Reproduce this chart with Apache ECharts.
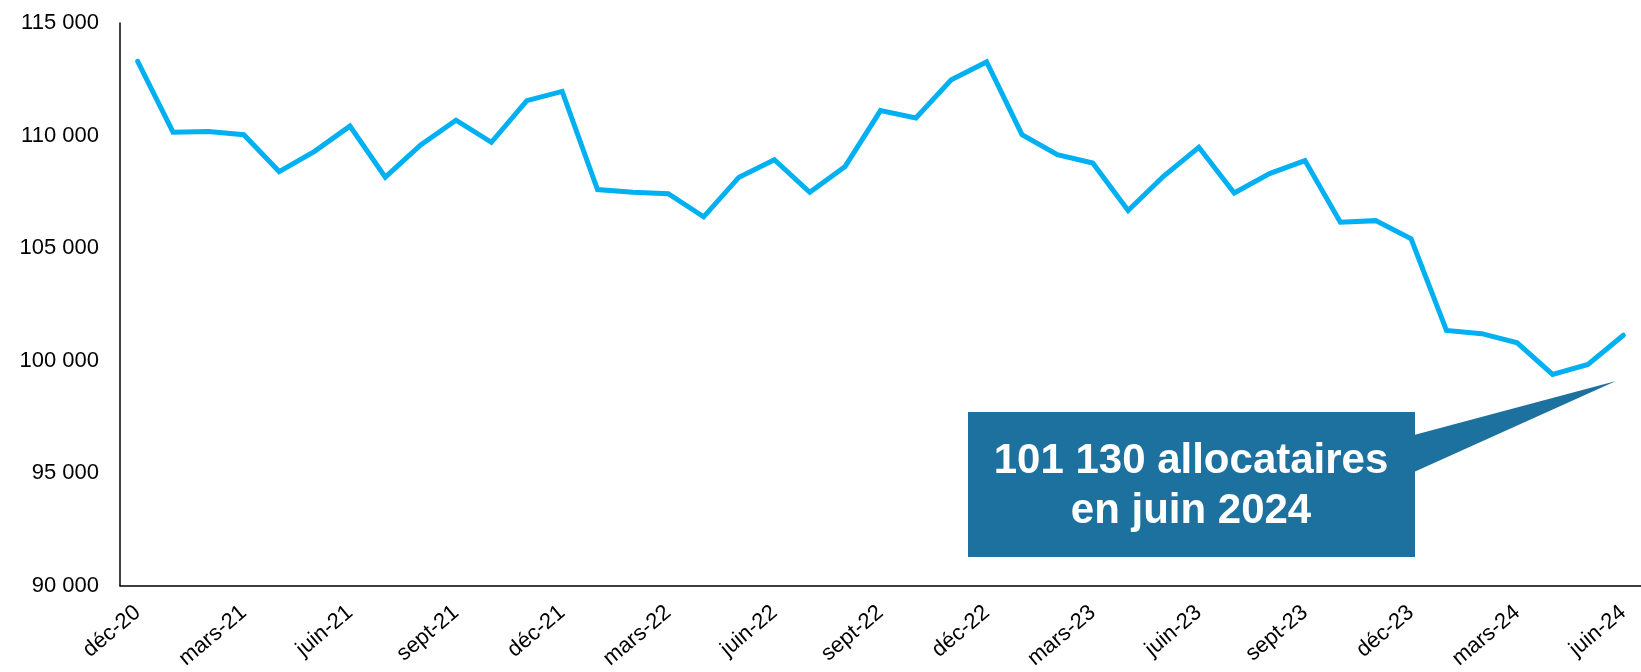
<!DOCTYPE html>
<html>
<head>
<meta charset="utf-8">
<script src="https://cdn.jsdelivr.net/npm/echarts@6/dist/echarts.min.js"></script>
<style>
  html, body { margin: 0; padding: 0; background: #fff; }
  #chart { width: 1641px; height: 672px; }
</style>
</head>
<body>
<div id="chart"></div>
<script>
const months = [
  'déc-20', 'janv-21', 'févr-21', 'mars-21', 'avr-21', 'mai-21', 'juin-21', 'juil-21', 'août-21', 'sept-21', 'oct-21', 'nov-21',
  'déc-21', 'janv-22', 'févr-22', 'mars-22', 'avr-22', 'mai-22', 'juin-22', 'juil-22', 'août-22', 'sept-22', 'oct-22', 'nov-22',
  'déc-22', 'janv-23', 'févr-23', 'mars-23', 'avr-23', 'mai-23', 'juin-23', 'juil-23', 'août-23', 'sept-23', 'oct-23', 'nov-23',
  'déc-23', 'janv-24', 'févr-24', 'mars-24', 'avr-24', 'mai-24', 'juin-24'
]

const allocataires = [
  113300, 110150, 110180, 110040, 108400, 109300, 110420, 108150, 109580, 110680, 109700, 111550,
  111960, 107600, 107480, 107420, 106390, 108150, 108930, 107480, 108630, 111110, 110780, 112480,
  113270, 110040, 109150, 108780, 106670, 108190, 109480, 107450, 108310, 108890, 106150, 106220,
  105410, 101340, 101200, 100790, 99390, 99830, 101130
]

const calloutLines = ['101 130 allocataires', 'en juin 2024']

const font = '"Liberation Sans", Arial, sans-serif'

const fmt = v => String(v).replace(/\B(?=(\d{3})+(?!\d))/g, ' ')

const chart = echarts.init(document.getElementById('chart'))

const option = {
  animation: false,
  backgroundColor: '#fff',
  textStyle: { fontFamily: font },
  grid: {
    left: 120,
    top: 23,
    width: 1535,
    height: 563
  },
  xAxis: {
    type: 'category',
    data: months,
    boundaryGap: true,
    axisLine: { lineStyle: { color: '#000', width: 1.5 } },
    axisTick: { show: false },
    axisLabel: {
      interval: 2,
      rotate: 40,
      margin: 24,
      color: '#000',
      fontSize: 22,
      fontFamily: font
    }
  },
  yAxis: {
    type: 'value',
    min: 90000,
    max: 115000,
    interval: 5000,
    axisLine: { show: true, lineStyle: { color: '#000', width: 1.5 } },
    axisTick: { show: false },
    splitLine: { show: false },
    axisLabel: {
      margin: 21,
      color: '#000',
      fontSize: 22,
      fontFamily: font,
      formatter: fmt
    }
  },
  series: [
    {
      name: 'Allocataires',
      type: 'line',
      data: allocataires,
      showSymbol: false,
      symbol: 'none',
      lineStyle: { color: '#00b0f0', width: 5, cap: 'round', join: 'miter' },
      z: 3
    }
  ],
  graphic: [
    {
      type: 'polygon',
      z: 10,
      shape: { points: [[1414, 435], [1616, 381], [1414, 472]] },
      style: { fill: '#1d719e' }
    },
    {
      type: 'rect',
      z: 10,
      shape: { x: 968, y: 412, width: 447, height: 145 },
      style: { fill: '#1d719e' }
    },
    {
      type: 'text',
      z: 11,
      x: 1191,
      y: 486,
      style: {
        text: calloutLines.join('\n'),
        fill: '#fff',
        font: 'bold 42px ' + font,
        align: 'center',
        verticalAlign: 'middle',
        lineHeight: 50
      }
    }
  ]
}

chart.setOption(option)
window.addEventListener('resize', () => chart.resize())
</script>
</body>
</html>
